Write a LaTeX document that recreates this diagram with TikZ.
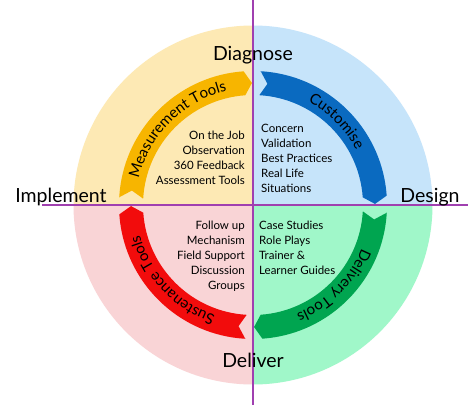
\documentclass[tikz,border=0pt]{standalone}
\usepackage{fontspec}
\setmainfont{Lato}
\usetikzlibrary{decorations.text}
\definecolor{qyel}{HTML}{FDE9B4}
\definecolor{qblue}{HTML}{C6E4FA}
\definecolor{qgreen}{HTML}{A0F7C9}
\definecolor{qpink}{HTML}{F9D4D6}
\definecolor{ayel}{HTML}{F7B500}
\definecolor{ablue}{HTML}{0A6AC0}
\definecolor{agreen}{HTML}{00A550}
\definecolor{ared}{HTML}{F20C0C}
\definecolor{pline}{HTML}{A040B0}
\newcommand\arcfont{\fontsize{15}{15}\selectfont}
\newcommand\drawribbon[4]{%
  \pgfmathsetmacro\ta{#1-3.3}%
  \pgfmathsetmacro\tn{#1-6.8}%
  \pgfmathsetmacro\ts{#1-86}%
  \pgfmathsetmacro\tt{#1-89.5}%
  \fill[#2] (\ta:134) arc[start angle=\ta,end angle=\ts,radius=134] -- (\tt:122) -- (\ts:110)
    arc[start angle=\ts,end angle=\ta,radius=110] -- (\tn:122) -- cycle;
  \pgfmathsetmacro\pa{#1-45+#4+42}%
  \pgfmathsetmacro\pb{#1-45+#4-42}%
  \path[decorate,decoration={text along path,text align=center,text={|\arcfont|#3}}]
    (\pa:117) arc[start angle=\pa,end angle=\pb,radius=117];
}
\tikzset{
  biglabel/.style={font=\fontsize{19.5}{20}\selectfont, inner sep=0pt, anchor=base},
  tl/.style={font=\fontsize{11.5}{12}\selectfont, inner sep=0pt, anchor=base east},
  tr/.style={font=\fontsize{11.5}{12}\selectfont, inner sep=0pt, anchor=base west},
  axis/.style={draw=pline, line width=1.3pt}
}
\begin{document}
\begin{tikzpicture}[x=1pt,y=1pt]
\useasboundingbox (-253,-200) rectangle (221,205);
\fill[white] (-253,-200) rectangle (221,205);
% quadrants
\fill[qyel] (0,0) -- (180:179.5) arc[start angle=180,end angle=90,radius=179.5] -- cycle;
\fill[qblue] (0,0) -- (90:179.5) arc[start angle=90,end angle=0,radius=179.5] -- cycle;
\fill[qgreen] (0,0) -- (0:179.5) arc[start angle=0,end angle=-90,radius=179.5] -- cycle;
\fill[qpink] (0,0) -- (-90:179.5) arc[start angle=-90,end angle=-180,radius=179.5] -- cycle;
% ribbons
\drawribbon{180}{ayel}{Measurement Tools}{0}
\drawribbon{90}{ablue}{Customise}{0}
\drawribbon{0}{agreen}{Delivery Tools}{0}
\drawribbon{-90}{ared}{Sustenance Tools}{-2}
% axes
\coordinate (vtop) at (0,205);
\coordinate (vbot) at (0,-200);
\coordinate (hl) at (-211,0);
\coordinate (hr) at (215,0);
\draw[axis] (vtop) -- (vbot);
\draw[axis] (hl) -- (hr);
% labels
\node[biglabel] (diag) at (0,145) {Diagnose};
\node[biglabel] (impl) at (-192,3) {Implement};
\node[biglabel] (desg) at (177,3) {Design};
\node[biglabel] (delv) at (0,-162) {Deliver};
% inner texts
\foreach \t [count=\i] in {On the Job, Observation, 360 Feedback, Assessment Tools}
  \node[tl] (tl\i) at (-8,80.5-15*\i) {\t};
\foreach \t [count=\i] in {Concern, Validation, Best Practices, Real Life, Situations}
  \node[tr] (tr\i) at (8,88-15*\i) {\t};
\foreach \t [count=\i] in {Follow up, Mechanism, Field Support, Discussion, Groups}
  \node[tl] (bl\i) at (-8,-9-15*\i) {\t};
\foreach \t [count=\i] in {Case Studies, Role Plays, Trainer \&, Learner Guides}
  \node[tr] (br\i) at (6,-9-15*\i) {\t};
\end{tikzpicture}
\end{document}
